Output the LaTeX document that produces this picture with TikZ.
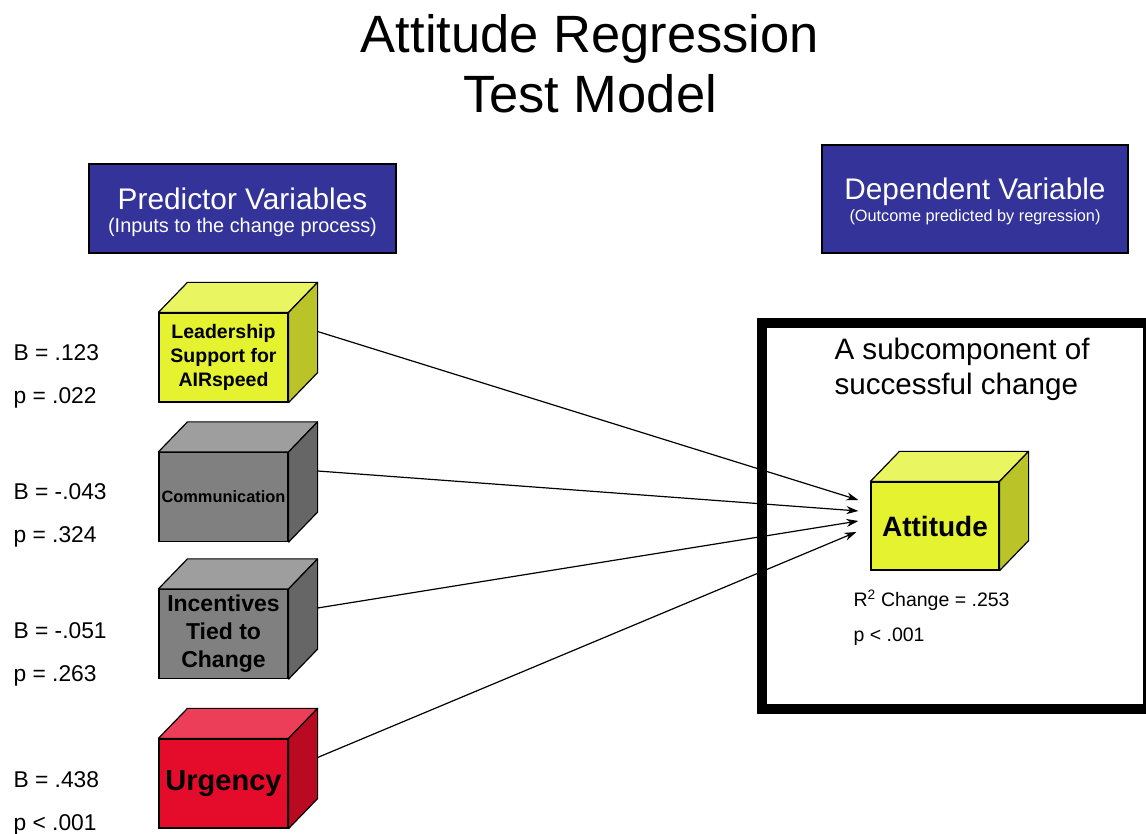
\documentclass[tikz,border=0pt]{standalone}
\usepackage{fontspec}
\setmainfont{Liberation Sans}
\usepackage{xcolor}
\usetikzlibrary{arrows.meta,positioning,calc}

\definecolor{navy}{RGB}{51,51,153}
\definecolor{yfront}{RGB}{228,242,48}
\definecolor{ytop}{RGB}{234,245,98}
\definecolor{yside}{RGB}{186,196,40}
\definecolor{gfront}{RGB}{128,128,128}
\definecolor{gtop}{RGB}{158,158,158}
\definecolor{gside}{RGB}{102,102,102}
\definecolor{rfront}{RGB}{228,12,42}
\definecolor{rtop}{RGB}{236,62,88}
\definecolor{rside}{RGB}{186,10,34}

\tikzset{
  cube/.style={draw, line width=1.2pt, inner sep=0pt, minimum width=129pt, minimum height=89pt, align=center},
  face/.style={draw=black, line width=1.2pt, line join=round},
  band/.style={draw=black, line width=1.2pt, fill=navy, inner sep=0pt},
  bandhead/.style={anchor=base, text=white, font=\fontsize{29.8}{34}\selectfont},
  stat/.style={anchor=base west, font=\fontsize{22.8}{27}\selectfont},
  arr/.style={-{Stealth[length=12pt,width=8pt]}, line width=1.2pt},
}

\begin{document}
\begin{tikzpicture}[x=1pt,y=1pt]
\useasboundingbox (0,0) rectangle (1146,833);

%title
\node[anchor=base, font=\fontsize{52.5}{60}\selectfont] (title1) at (590,780) {Attitude Regression};
\node[anchor=base, font=\fontsize{52.5}{60}\selectfont] (title2) at (590,720) {Test Model};

%headers
\node[band, minimum width=307pt, minimum height=89pt] (pred) at (242.5,624.5) {};
\node[bandhead] (predT) at ([yshift=-1.5pt]pred.center) {Predictor Variables};
\node[bandhead, font=\fontsize{19.9}{23}\selectfont] (predS) at ([yshift=-24.5pt]pred.center) {(Inputs to the change process)};

\node[band, minimum width=306pt, minimum height=108pt] (dep) at (975,634) {};
\node[bandhead] (depT) at ([yshift=-1pt]dep.center) {Dependent Variable};
\node[bandhead, font=\fontsize{16.3}{20}\selectfont] (depS) at ([yshift=-23pt]dep.center) {(Outcome predicted by regression)};

%frame
\draw[line width=10pt] (762,124) rectangle (1148,510);
\node[anchor=base west, font=\fontsize{29.6}{34}\selectfont] (sub1) at (831,473) {A subcomponent of};
\node[anchor=base west, font=\fontsize{29.6}{34}\selectfont] (sub2) at (831,438) {successful change};

%predictor cubes
\node[cube, fill=yfront, font=\bfseries\fontsize{19.5}{24}\selectfont] (lead) at (223.5,475.5) {Leadership\\Support for\\AIRspeed};
\draw[face, fill=ytop] (lead.north west) -- ++(29,30) -- ([shift={(29,30)}]lead.north east) -- (lead.north east) -- cycle;
\draw[face, fill=yside] (lead.north east) -- ++(29,30) -- ([shift={(29,30)}]lead.south east) -- (lead.south east) -- cycle;

\node[cube, fill=gfront, font=\bfseries\fontsize{16.4}{20}\selectfont] (comm) at (223.5,336) {Communication};
\draw[face, fill=gtop] (comm.north west) -- ++(29,30) -- ([shift={(29,30)}]comm.north east) -- (comm.north east) -- cycle;
\draw[face, fill=gside] (comm.north east) -- ++(29,30) -- ([shift={(29,30)}]comm.south east) -- (comm.south east) -- cycle;

\node[cube, fill=gfront, font=\bfseries\fontsize{23}{28}\selectfont] (inc) at (223.5,199) {Incentives\\Tied to\\Change};
\draw[face, fill=gtop] (inc.north west) -- ++(29,30) -- ([shift={(29,30)}]inc.north east) -- (inc.north east) -- cycle;
\draw[face, fill=gside] (inc.north east) -- ++(29,30) -- ([shift={(29,30)}]inc.south east) -- (inc.south east) -- cycle;

\node[cube, fill=rfront, font=\bfseries\fontsize{29}{34}\selectfont] (urg) at (223.5,49.5) {Urgency};
\draw[face, fill=rtop] (urg.north west) -- ++(29,30) -- ([shift={(29,30)}]urg.north east) -- (urg.north east) -- cycle;
\draw[face, fill=rside] (urg.north east) -- ++(29,30) -- ([shift={(29,30)}]urg.south east) -- (urg.south east) -- cycle;

%dependent cube
\node[cube, minimum width=128pt, minimum height=88pt, fill=yfront, font=\bfseries\fontsize{28}{33}\selectfont] (att) at (935,307) {Attitude};
\draw[face, fill=ytop] (att.north west) -- ++(29,30) -- ([shift={(29,30)}]att.north east) -- (att.north east) -- cycle;
\draw[face, fill=yside] (att.north east) -- ++(29,30) -- ([shift={(29,30)}]att.south east) -- (att.south east) -- cycle;

\node[anchor=base west, font=\fontsize{19.5}{23}\selectfont] (r2) at (850,226) {R\textsuperscript{2} Change = .253};
\node[anchor=base west, font=\fontsize{19.5}{23}\selectfont] (r2p) at (850,191) {p < .001};

%stats
\node[stat] (b1) at (10,472) {B = .123};
\node[stat] (p1) at (10,429) {p = .022};
\node[stat] (b2) at (10,333) {B = -.043};
\node[stat] (p2) at (10,290) {p = .324};
\node[stat] (b3) at (10,194) {B = -.051};
\node[stat] (p3) at (10,151) {p = .263};
\node[stat] (b4) at (10,46) {B = .438};
\node[stat] (p4) at (10,3) {p < .001};

%arrows
\coordinate (lead-r) at ([shift={(29,26)}]lead.east);
\coordinate (comm-r) at ([shift={(29,26)}]comm.east);
\coordinate (inc-r) at ([shift={(29,26)}]inc.east);
\coordinate (urg-r) at ([shift={(29,26)}]urg.east);
\coordinate (in1) at ([shift={(-12,26)}]att.west);
\coordinate (in2) at ([shift={(-12,15)}]att.west);
\coordinate (in3) at ([shift={(-12,5)}]att.west);
\coordinate (in4) at ([shift={(-14,-6)}]att.west);
\draw[arr] (lead-r) -- (in1);
\draw[arr] (comm-r) -- (in2);
\draw[arr] (inc-r) -- (in3);
\draw[arr] (urg-r) -- (in4);
\end{tikzpicture}
\end{document}
